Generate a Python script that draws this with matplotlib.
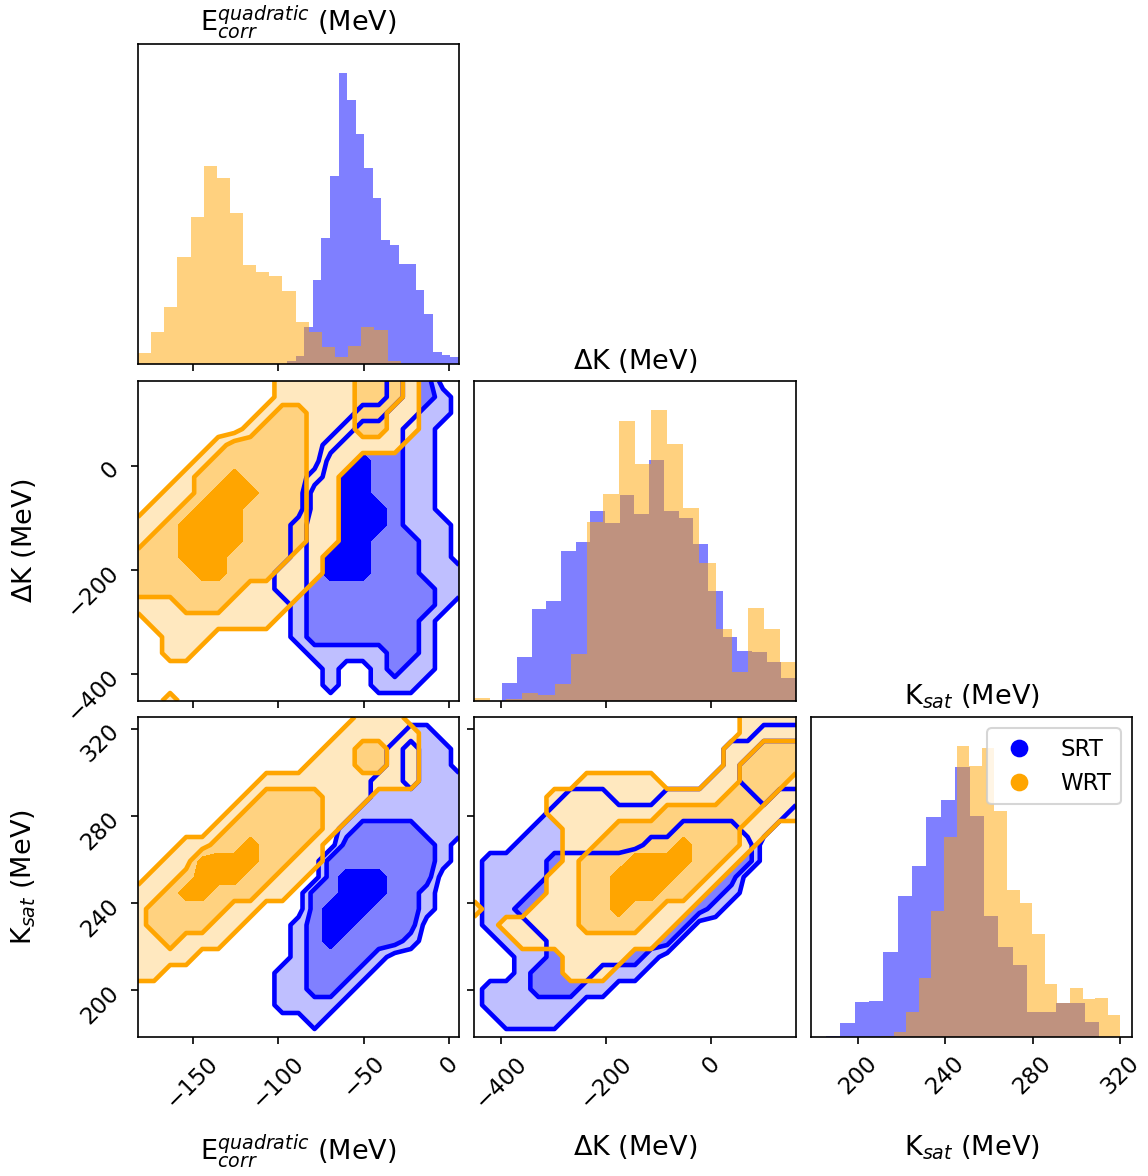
import numpy as np
import matplotlib.pyplot as plt
from matplotlib.lines import Line2D

# axis ranges of the three parameters
e_lim = (-181.9, 5.8)
dk_lim = (-452.0, 163.0)
k_lim = (178.5, 325.5)

e_ticks = [-150, -100, -50, 0]
dk_ticks = [-400, -200, 0]
k_ticks = [200, 240, 280, 320]

e_label = r'E$^{quadratic}_{corr}$ (MeV)'
dk_label = r'$\Delta$K (MeV)'
k_label = r'K$_{sat}$ (MeV)'

# 1d histograms, 20 bins between first and last edge
e_srt_range = (-94.8, 5.7)
e_srt_counts = [9, 24, 112, 252, 377, 564, 872, 792, 689, 589,
                499, 372, 357, 300, 300, 222, 150, 35, 27, 20]
e_wrt_range = (-181.9, -28.3)
e_wrt_counts = [34, 97, 172, 322, 440, 594, 557, 452, 297, 276,
                265, 220, 127, 95, 52, 22, 55, 110, 102, 9]

dk_srt_range = (-398.0, 163.0)
dk_srt_counts = [53, 133, 275, 300, 450, 478, 570, 533, 618, 560,
                 722, 570, 548, 470, 330, 193, 150, 148, 116, 68]
dk_wrt_range = (-452.0, 163.0)
dk_wrt_counts = [8, 0, 6, 23, 18, 50, 140, 538, 621, 840,
                 711, 873, 771, 580, 415, 216, 88, 278, 216, 116]

k_srt_range = (178.7, 310.4)
k_srt_counts = [1, 2, 43, 106, 108, 253, 421, 513, 659, 711,
                808, 661, 363, 269, 216, 76, 76, 101, 101, 46]
k_wrt_range = (204.8, 320.2)
k_wrt_counts = [1, 3, 16, 76, 176, 376, 598, 871, 811, 866,
                676, 441, 401, 309, 159, 101, 146, 113, 116, 66]

# 2d credible regions on a 21x21 grid (top row first):
# 0 outside, 1 outer, 2 middle, 3 inner region
e_dk_srt = [
    "000000000000000012200",
    "000000000000000012210",
    "000000000000001122110",
    "000000000000012221100",
    "000000000000122221100",
    "000000000000233221100",
    "000000000001233221100",
    "000000000002333221100",
    "000000000002333321100",
    "000000000012333321110",
    "000000000012333222110",
    "000000000012333222110",
    "000000000112333222111",
    "000000000112222222211",
    "000000000012222222210",
    "000000000012222222100",
    "000000000012222222100",
    "000000000001111122100",
    "000000000000100121100",
    "000000000000100111000",
    "000000000000000000000",
]
e_dk_wrt = [
    "000000000111112221000",
    "000000000111112221000",
    "000000001221112211000",
    "000000012221112211000",
    "000001222221111110000",
    "000012222221110000000",
    "000122322221100000000",
    "001123332221100000000",
    "011233322221100000000",
    "112333322221100000000",
    "122333322221100000000",
    "222333222211000000000",
    "222233222111000000000",
    "222222211110000000000",
    "111222111100000000000",
    "011111111000000000000",
    "001110000000000000000",
    "001100000000000000000",
    "000000000000000000000",
    "000000000000000000000",
    "001000000000000000000",
]
e_k_srt = [
    "000000000000000000000",
    "000000000000000001100",
    "000000000000000012110",
    "000000000000000012110",
    "000000000000000112111",
    "000000000000000111111",
    "000000000000001111111",
    "000000000000012222111",
    "000000000000022222210",
    "000000000000222222210",
    "000000000000233322200",
    "000000000002233322100",
    "000000000002333222100",
    "000000000012332222000",
    "000000000012322221000",
    "000000000012222100000",
    "000000000112221000000",
    "000000000112210000000",
    "000000000111100000000",
    "000000000001000000000",
    "000000000000000000000",
]
e_k_wrt = [
    "000000000000001110000",
    "000000000000011111000",
    "000000000000112211000",
    "000000000001112211000",
    "000000001111111111000",
    "000000012222111000000",
    "000000122222110000000",
    "000001222222100000000",
    "000112232221000000000",
    "001133332211000000000",
    "011233322110000000000",
    "112332221100000000000",
    "122222110000000000000",
    "122221100000000000000",
    "112111000000000000000",
    "111100000000000000000",
    "110000000000000000000",
    "000000000000000000000",
    "000000000000000000000",
    "000000000000000000000",
    "000000000000000000000",
]
dk_k_srt = [
    "000000000000000000000",
    "000000000000000000111",
    "000000000000000011222",
    "000000000000000012222",
    "000000000000000112222",
    "000000111000111111211",
    "000001111111111111110",
    "000011111111122221100",
    "000111111112222222000",
    "011112222233332222000",
    "011112223333333220000",
    "011122233333322210000",
    "011222233332222100000",
    "011122233222220000000",
    "001112222222200000000",
    "000112222221000000000",
    "000122221110000000000",
    "011122211000000000000",
    "011111100000000000000",
    "001111000000000000000",
    "000000000000000000000",
]
dk_k_wrt = [
    "000000000000000001111",
    "000000000000000001111",
    "000000000000000011222",
    "000000000000000012222",
    "000000011111000112221",
    "000001111111111122211",
    "000001111111222222111",
    "000000111222222221100",
    "000000112222232221000",
    "000000122233332210000",
    "000001122333322100000",
    "000001122333221000000",
    "100011122322110000000",
    "001111122221100000000",
    "000111111111000000000",
    "000000111100000000000",
    "000000111000000000000",
    "000000000000000000000",
    "000000000000000000000",
    "000000000000000000000",
    "000000000000000000000",
]

blue = 'blue'
orange = 'orange'
blue_shades = ['#bfbfff', '#8080ff', '#0000ff']
orange_shades = ['#ffe8bf', '#ffd280', '#ffa500']

plt.rcParams['font.family'] = 'DejaVu Sans'
W, H = 1148, 1176
fig = plt.figure(figsize=(W / 150, H / 150), dpi=150)

cols = [(138, 459), (474, 796), (811, 1132)]
rows = [(44, 364), (381, 701), (717, 1037)]


def make_ax(r, c):
    x0, x1 = cols[c]
    y0, y1 = rows[r]
    return fig.add_axes([x0 / W, 1 - y1 / H, (x1 - x0) / W, (y1 - y0) / H])


def hist(ax, rng, counts, color):
    edges = np.linspace(rng[0], rng[1], len(counts) + 1)
    ax.hist(edges[:-1], bins=edges, weights=counts, color=color, alpha=0.5)


def grid_of(rows_txt):
    return np.array([[int(ch) for ch in r] for r in rows_txt[::-1]], dtype=float)


def fill(ax, xl, yl, rows_txt, shades):
    z = grid_of(rows_txt)
    x = np.linspace(xl[0], xl[1], z.shape[1])
    y = np.linspace(yl[0], yl[1], z.shape[0])
    ax.contourf(x, y, z, levels=[0.5, 1.5, 2.5, 3.5], colors=shades)


def lines(ax, xl, yl, rows_txt, color):
    z = grid_of(rows_txt)
    x = np.linspace(xl[0], xl[1], z.shape[1])
    y = np.linspace(yl[0], yl[1], z.shape[0])
    ax.contour(x, y, z, levels=[0.5, 1.5], colors=color, linewidths=2.2)


def pair(ax, xl, yl, srt, wrt):
    fill(ax, xl, yl, srt, blue_shades)
    fill(ax, xl, yl, wrt, orange_shades)
    lines(ax, xl, yl, srt, blue)
    lines(ax, xl, yl, wrt, orange)
    ax.set_xlim(xl)
    ax.set_ylim(yl)


lims = [e_lim, dk_lim, k_lim]
ticks = [e_ticks, dk_ticks, k_ticks]
labels = [e_label, dk_label, k_label]

# diagonal
diag = [(e_srt_range, e_srt_counts, e_wrt_range, e_wrt_counts),
        (dk_srt_range, dk_srt_counts, dk_wrt_range, dk_wrt_counts),
        (k_srt_range, k_srt_counts, k_wrt_range, k_wrt_counts)]
axes = {}
for i in range(3):
    ax = make_ax(i, i)
    s_rng, s_cnt, w_rng, w_cnt = diag[i]
    hist(ax, s_rng, s_cnt, blue)
    hist(ax, w_rng, w_cnt, orange)
    ax.set_xlim(lims[i])
    ax.set_ylim(0, 1.1 * max(max(s_cnt), max(w_cnt)))
    ax.set_yticks([])
    ax.set_title(labels[i], fontsize=13)
    axes[(i, i)] = ax

axes[(1, 0)] = make_ax(1, 0)
pair(axes[(1, 0)], e_lim, dk_lim, e_dk_srt, e_dk_wrt)
axes[(2, 0)] = make_ax(2, 0)
pair(axes[(2, 0)], e_lim, k_lim, e_k_srt, e_k_wrt)
axes[(2, 1)] = make_ax(2, 1)
pair(axes[(2, 1)], dk_lim, k_lim, dk_k_srt, dk_k_wrt)

for (r, c), ax in axes.items():
    ax.set_xticks(ticks[c])
    ax.tick_params(labelsize=11)
    if r != c:
        ax.set_yticks(ticks[r])
    if r == 2:
        plt.setp(ax.get_xticklabels(), rotation=45)
        ax.set_xlabel(labels[c], fontsize=13)
        ax.xaxis.set_label_coords(0.5, -0.3)
    else:
        ax.set_xticklabels([])
    if c == 0 and r > 0:
        plt.setp(ax.get_yticklabels(), rotation=45)
        ax.set_ylabel(labels[r], fontsize=13)
        ax.yaxis.set_label_coords(-0.31, 0.5)
    elif r != c:
        ax.set_yticklabels([])

handles = [Line2D([], [], marker='o', ls='', color=blue, ms=7.5, label='SRT'),
           Line2D([], [], marker='o', ls='', color=orange, ms=7.5, label='WRT')]
axes[(2, 2)].legend(handles=handles, loc='upper right', fontsize=11)

fig.savefig('out.png', dpi=150)
